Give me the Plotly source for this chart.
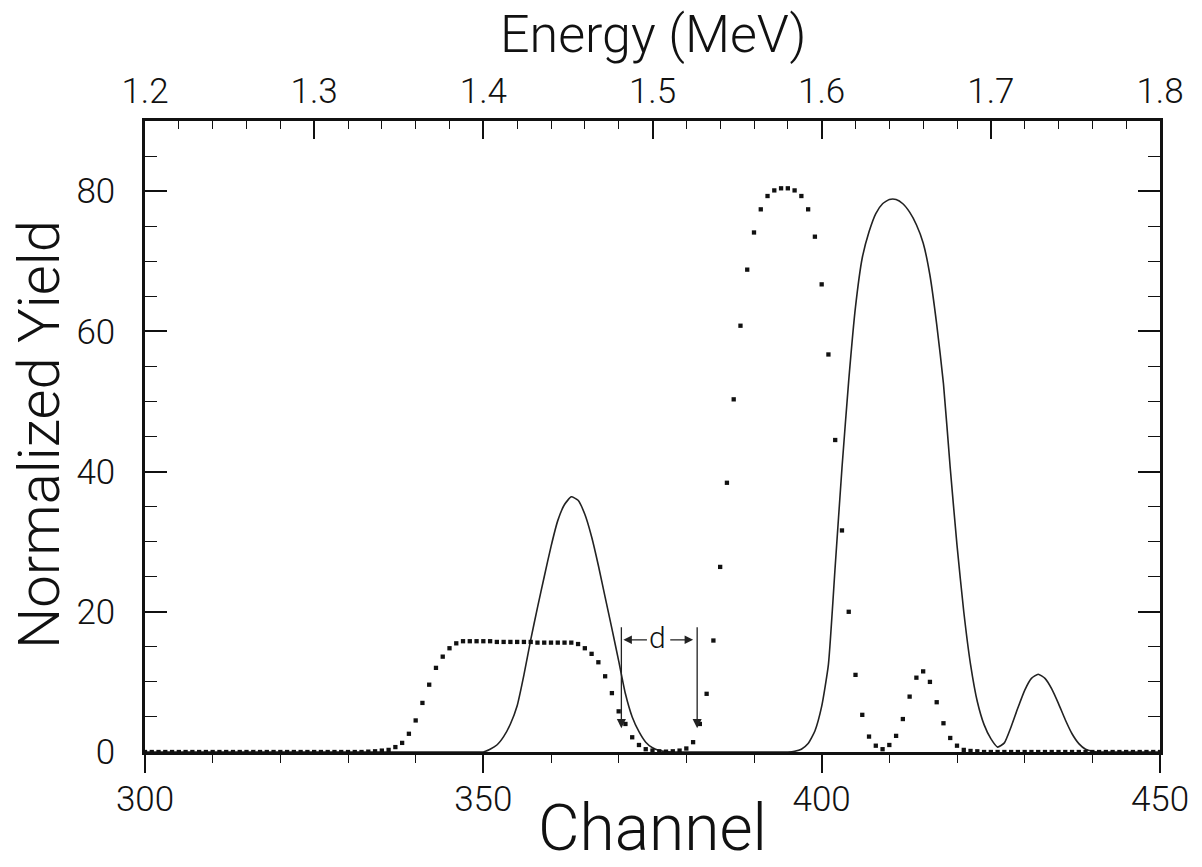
import plotly.graph_objects as go

# ---------------- data ----------------
channels = list(range(300, 451))

# solid curve (normalized yield per channel, 300..450)
solid_yield = [
    0, 0, 0, 0, 0, 0, 0, 0, 0, 0,            # 300-309
    0, 0, 0, 0, 0, 0, 0, 0, 0, 0,            # 310-319
    0, 0, 0, 0, 0, 0, 0, 0, 0, 0,            # 320-329
    0, 0, 0, 0, 0, 0, 0, 0, 0, 0,            # 330-339
    0, 0, 0, 0, 0, 0, 0, 0, 0, 0,            # 340-349
    0.0, 0.4, 1.0, 2.2, 4.0, 6.6, 11.0, 16.0, 20.6, 25.0,      # 350-359
    29.3, 33.0, 35.3, 36.4, 35.9, 33.9, 30.7, 26.6, 22.1, 17.6,  # 360-369
    13.0, 8.3, 5.0, 2.9, 1.4, 0.6, 0.2, 0.05, 0, 0,            # 370-379
    0, 0, 0, 0, 0, 0, 0, 0, 0, 0,            # 380-389
    0, 0, 0, 0, 0, 0, 0.1, 0.4, 1.2, 3.0,    # 390-399
    6.5, 12.5, 26.5, 40.5, 53.0, 63.5, 70.5, 74.2, 76.8, 78.2,  # 400-409
    78.8, 78.8, 78.2, 77.0, 75.2, 72.6, 68.0, 61.0, 52.5, 40.5,  # 410-419
    29.5, 20.0, 12.5, 7.2, 3.9, 1.9, 0.7, 1.3, 3.6, 6.3,        # 420-429
    8.8, 10.5, 11.1, 10.5, 9.0, 6.9, 4.6, 2.6, 1.2, 0.4,        # 430-439
    0.1, 0, 0, 0, 0, 0, 0, 0, 0, 0,          # 440-449
    0,                                       # 450
]

# dotted series (normalized yield per channel, 300..450)
dot_yield = [
    0, 0, 0, 0, 0, 0, 0, 0, 0, 0,            # 300-309
    0, 0, 0, 0, 0, 0, 0, 0, 0, 0,            # 310-319
    0, 0, 0, 0, 0, 0, 0, 0, 0, 0,            # 320-329
    0, 0, 0, 0.05, 0.1, 0.2, 0.3, 0.7, 1.3, 2.6,               # 330-339
    4.5, 7.0, 9.6, 12.0, 13.6, 14.8, 15.5, 15.8, 15.8, 15.8,   # 340-349
    15.8, 15.8, 15.7, 15.7, 15.7, 15.7, 15.7, 15.7, 15.6, 15.6, # 350-359
    15.6, 15.6, 15.6, 15.6, 15.4, 14.8, 14.0, 12.8, 10.8, 8.4,  # 360-369
    5.8, 4.0, 2.1, 1.0, 0.4, 0.2, 0.1, 0.05, 0.1, 0.2,          # 370-379
    0.5, 1.4, 4.0, 8.3, 15.9, 26.4, 38.4, 50.3, 60.8, 68.8,     # 380-389
    74.1, 77.4, 79.3, 80.1, 80.4, 80.4, 80.1, 79.3, 77.4, 73.5, # 390-399
    66.7, 56.7, 44.5, 31.6, 20.0, 11.0, 5.3, 2.2, 0.9, 0.4,     # 400-409
    1.0, 2.3, 4.7, 7.9, 10.6, 11.5, 10.0, 7.1, 4.1, 2.0,        # 410-419
    0.9, 0.3, 0.15, 0.1, 0, 0, 0, 0, 0, 0,   # 420-429
    0, 0, 0, 0, 0, 0, 0, 0, 0, 0,            # 430-439
    0, 0, 0, 0, 0, 0, 0, 0, 0, 0,            # 440-449
    0,                                       # 450
]

# energy scale (top axis) matching channel 300..450
energy_range = [1.2, 1.8]
channel_range = [300, 450]
energy_ticks = [1.2, 1.3, 1.4, 1.5, 1.6, 1.7, 1.8]

# separation marker "d" between the two edges
d_left_channel = 370.4
d_right_channel = 381.6
arrow_top_yield = 18.0
arrow_tip_yield = 3.4
d_label_yield = 16.0

# ---------------- figure ----------------
FONT = "Roboto"
INK = "#111111"
LIGHT = 300

fig = go.Figure()

fig.add_trace(go.Scatter(
    x=channels, y=solid_yield, mode="lines",
    line=dict(color="#222222", width=1.6, shape="spline", smoothing=0.5),
    showlegend=False, hoverinfo="skip",
))

fig.add_trace(go.Scatter(
    x=channels, y=dot_yield, mode="markers",
    marker=dict(symbol="square", size=4.3, color="#111111", line=dict(width=0)),
    showlegend=False,
))

# invisible trace to activate the top energy axis
fig.add_trace(go.Scatter(
    x=energy_ticks, y=[None] * len(energy_ticks), xaxis="x2", yaxis="y",
    mode="markers", marker=dict(opacity=0), showlegend=False, hoverinfo="skip",
))

# vertical arrows marking the two edges
for xc in (d_left_channel, d_right_channel):
    fig.add_annotation(
        x=xc, y=arrow_tip_yield, ax=xc, ay=arrow_top_yield,
        xref="x", yref="y", axref="x", ayref="y",
        text="", showarrow=True, arrowhead=2, arrowsize=1.4,
        arrowwidth=1.3, arrowcolor="#222222",
    )

# horizontal "<d>" arrows
mid = (d_left_channel + d_right_channel) / 2
fig.add_annotation(
    x=d_left_channel + 0.3, y=d_label_yield, ax=mid - 1.6, ay=d_label_yield,
    xref="x", yref="y", axref="x", ayref="y",
    text="", showarrow=True, arrowhead=2, arrowsize=1.3,
    arrowwidth=1.3, arrowcolor="#222222",
)
fig.add_annotation(
    x=d_right_channel - 0.6, y=d_label_yield, ax=mid + 1.4, ay=d_label_yield,
    xref="x", yref="y", axref="x", ayref="y",
    text="", showarrow=True, arrowhead=2, arrowsize=1.3,
    arrowwidth=1.3, arrowcolor="#222222",
)
fig.add_annotation(
    x=mid - 0.2, y=d_label_yield, xref="x", yref="y", text="d", showarrow=False,
    font=dict(family=FONT, size=30, color=INK, weight=LIGHT),
    yshift=2,
)

# axis titles (placed as annotations in paper coordinates)
fig.add_annotation(
    x=0.5, y=1.1378, xref="paper", yref="paper", text="Energy (MeV)",
    showarrow=False, xanchor="center", yanchor="middle",
    font=dict(family=FONT, size=52, color=INK, weight=LIGHT),
)
fig.add_annotation(
    x=0.5, y=-0.121, xref="paper", yref="paper", text="Channel",
    showarrow=False, xanchor="center", yanchor="middle",
    font=dict(family=FONT, size=64, color=INK, weight=LIGHT),
)
fig.add_annotation(
    x=-0.105, y=0.503, xref="paper", yref="paper", text="Normalized Yield",
    showarrow=False, xanchor="center", yanchor="middle", textangle=-90,
    font=dict(family=FONT, size=58, color=INK, weight=LIGHT),
)

axis_common = dict(
    showgrid=False, zeroline=False, showline=True, automargin=False,
    linecolor=INK, linewidth=2.5, tickcolor=INK, tickwidth=1.6,
)
tick_font = dict(family=FONT, size=35, color=INK, weight=LIGHT)

fig.update_layout(
    width=1202, height=867,
    margin=dict(l=145, r=42, t=121, b=115),
    paper_bgcolor="white", plot_bgcolor="white",
    font=dict(family=FONT, color=INK, weight=LIGHT),
    xaxis=dict(
        range=channel_range, dtick=50, tick0=300,
        ticks="outside", ticklen=18,
        minor=dict(dtick=10, ticklen=8, ticks="outside", tickcolor=INK, tickwidth=1.4),
        tickfont=tick_font, ticklabelstandoff=-4,
        mirror=False,
        **axis_common,
    ),
    xaxis2=dict(
        range=energy_range, overlaying="x", side="top", anchor="y",
        tickvals=energy_ticks, tickformat=".1f",
        ticks="inside", ticklen=18,
        minor=dict(dtick=0.02, ticklen=8, ticks="inside", tickcolor=INK, tickwidth=1.4),
        tickfont=tick_font, ticklabelstandoff=1,
        **axis_common,
    ),
    yaxis=dict(
        range=[0, 90], dtick=20, tick0=0,
        ticks="inside", ticklen=22, mirror="ticks",
        minor=dict(dtick=5, ticklen=12, ticks="inside", tickcolor=INK, tickwidth=1.4),
        tickfont=tick_font, ticklabelstandoff=20,
        **axis_common,
    ),
)

fig.write_html(
    "out.html",
    config={"displayModeBar": False},
    post_script="document.body.style.margin='0';",
)
